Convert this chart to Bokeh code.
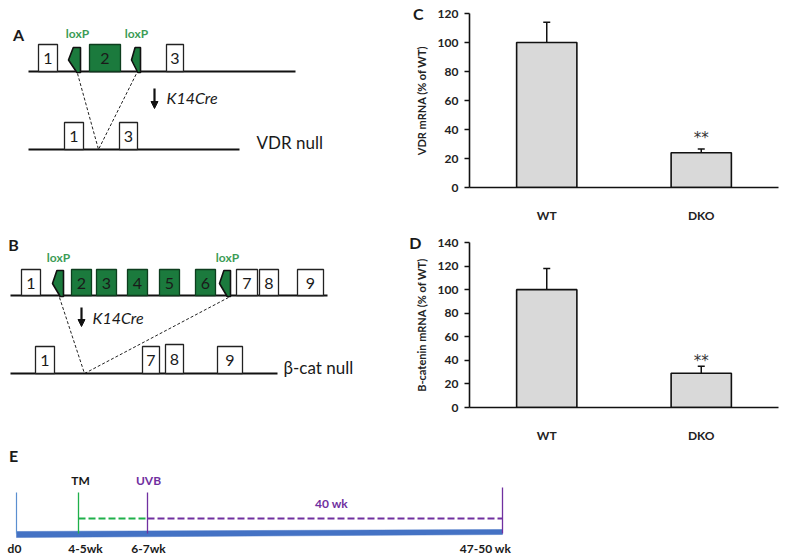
from bokeh.plotting import figure
from bokeh.models import (Range1d, FactorRange, ColumnDataSource, Whisker, TeeHead,
                          LinearAxis, Arrow, NormalHead, FixedTicker)
from bokeh.layouts import column, row
from bokeh.core.properties import value
from bokeh.embed import file_html
from bokeh.resources import INLINE

# ---------------- data ----------------
categories = ["WT", "DKO"]
vdr_mean = [100, 24]
vdr_err = [14, 2.5]
bcat_mean = [100, 29]
bcat_err = [18, 6]
significance = ["", "**"]
vdr_ticks = [0, 20, 40, 60, 80, 100, 120]
bcat_ticks = [0, 20, 40, 60, 80, 100, 120, 140]

vdr_floxed_exons = ["1", "2", "3"]
vdr_null_exons = ["1", "3"]
bcat_floxed_exons = ["1", "2", "3", "4", "5", "6", "7", "8", "9"]
bcat_null_exons = ["1", "7", "8", "9"]
timeline_labels = ["d0", "4-5wk", "6-7wk", "47-50 wk"]

# ---------------- style ----------------
FONT = "Lato"
EXON_GREEN = "#1b7a3d"
LOX_GREEN = "#3c9c55"
PURPLE = "#7030a0"
TL_GREEN = "#1fb04a"
BLUE = "#4472c4"
INK = "#1a1a1a"


def canvas(w, h, xr, yr):
    p = figure(width=w, height=h, x_range=Range1d(*xr), y_range=Range1d(*yr),
               x_axis_type=None, y_axis_type=None, toolbar_location=None,
               output_backend="svg", min_border=0, outline_line_color=None)
    return p


def txt(p, x, y, t, size="16px", color=INK, style="normal", align="center", baseline="middle"):
    p.text(x=[x], y=[y], text=[t], text_font=value(FONT), text_font_size=size,
           text_color=color, text_font_style=style, text_align=align, text_baseline=baseline)


def exons(p, labels, lefts, rights, tops, bottoms, green_flags):
    for lab, l, r, t, b, g in zip(labels, lefts, rights, tops, bottoms, green_flags):
        p.quad(left=[l], right=[r], top=[t], bottom=[b],
               fill_color=EXON_GREEN if g else "white",
               line_color="#0d3d1e" if g else "#222222", line_width=1.3)
        txt(p, (l + r) / 2.0, (t + b) / 2.0 + 0.5, lab, size="16px")


def loxp(p, xl, xr, yt, yb):
    xs = [xl + 0.4 * (xr - xl), xr, xr, xr - 0.3 * (xr - xl), xl]
    ys = [yt, yt, yb, yb, (yt + yb) / 2.0]
    p.patch(xs, ys, fill_color=EXON_GREEN, line_color="#111111", line_width=1.6)


def down_arrow(p, x, y0, y1):
    p.add_layout(Arrow(end=NormalHead(size=7, fill_color="#111111", line_color="#111111"),
                       x_start=x, y_start=y0, x_end=x, y_end=y1,
                       line_width=2.2, line_color="#111111"))


# ---------------- panel A + B (schematic) ----------------
left = canvas(400, 445, (0, 400), (445, 0))

# Panel A
txt(left, 18, 34, "A", size="16px", style="bold")
left.line([28, 295], [71, 71], line_color="#111111", line_width=2.2)
exons(left, vdr_floxed_exons, [38, 89, 166], [57, 120, 183], [44] * 3, [71] * 3,
      [False, True, False])
loxp(left, 68, 80, 47, 72)
loxp(left, 131, 140, 47, 72)
txt(left, 77, 33, "loxP", size="12px", color=LOX_GREEN, style="bold")
txt(left, 136, 33, "loxP", size="12px", color=LOX_GREEN, style="bold")
left.line([77, 98, 136], [73, 149, 73], line_color="#222222", line_width=1, line_dash="3 2")
down_arrow(left, 154, 88, 108)
txt(left, 166, 97, "K14Cre", size="16px", style="italic", align="left")
left.line([28, 239], [149, 149], line_color="#111111", line_width=2.2)
exons(left, vdr_null_exons, [64, 119], [83, 137], [122] * 2, [149] * 2, [False, False])
txt(left, 256, 142, "VDR null", size="17px", align="left")

# Panel B
txt(left, 13, 244, "B", size="16px", style="bold")
left.line([10, 327], [295, 295], line_color="#111111", line_width=2.2)
exons(left, bcat_floxed_exons,
      [21, 71, 96, 127, 159, 195, 236, 259, 297],
      [40, 91, 116, 147, 179, 215, 257, 278, 323],
      [269] * 9, [295] * 9,
      [False, True, True, True, True, True, False, False, False])
loxp(left, 52, 63, 270, 296)
loxp(left, 219, 230, 270, 296)
txt(left, 58, 257, "loxP", size="12px", color=LOX_GREEN, style="bold")
txt(left, 227, 257, "loxP", size="12px", color=LOX_GREEN, style="bold")
left.line([59, 84, 228], [297, 373, 297], line_color="#222222", line_width=1, line_dash="3 2")
down_arrow(left, 81, 307, 326)
txt(left, 92, 317, "K14Cre", size="16px", style="italic", align="left")
left.line([10, 277], [373, 373], line_color="#111111", line_width=2.2)
exons(left, bcat_null_exons, [35, 142, 165, 217], [54, 159, 183, 242],
      [346, 346, 344, 346], [373] * 4, [False] * 4)
txt(left, 283, 367, "\u03b2-cat null", size="17px", align="left")


# ---------------- bar charts C and D ----------------
def bar_chart(h, ticks, means, errs, ylabel, letter, letter_standoff, borders, star_off):
    top_b, bottom_b, right_b = borders
    p = figure(width=400, height=h, x_range=FactorRange(*categories),
               y_range=Range1d(0, ticks[-1]), toolbar_location=None,
               output_backend="svg", min_border_left=69, min_border_right=right_b,
               min_border_top=top_b, min_border_bottom=bottom_b,
               outline_line_color=None)
    upper = [m + e for m, e in zip(means, errs)]
    src = ColumnDataSource(dict(x=categories, top=means, upper=upper, sig=significance))
    p.vbar(x="x", top="top", width=0.39, source=src, fill_color="#d9d9d9",
           line_color="#111111", line_width=1.6)
    p.add_layout(Whisker(base="x", lower="top", upper="upper", source=src,
                         dimension="height", lower_head=None,
                         upper_head=TeeHead(size=7, line_width=1.5, line_color="#111111"),
                         line_width=1.5, line_color="#111111"))
    p.text(x="x", y="upper", text="sig", source=src, text_font=value("DejaVu Sans"),
           text_font_size="15px", text_align="center", text_baseline="middle",
           y_offset=-star_off, text_color="#333333")
    p.xgrid.grid_line_color = None
    p.ygrid.grid_line_color = None
    for ax in (p.xaxis, p.yaxis):
        ax.axis_line_color = "#111111"
        ax.axis_line_width = 1.6
        ax.major_label_text_font = FONT
        ax.major_label_text_font_style = "bold"
        ax.major_label_text_font_size = "12px"
        ax.major_label_text_color = "#222222"
        ax.minor_tick_line_color = None
    p.xaxis.major_tick_line_color = None
    p.xaxis.major_label_standoff = 14
    p.yaxis.ticker = FixedTicker(ticks=ticks)
    p.yaxis.major_tick_in = 0
    p.yaxis.major_tick_out = 5
    p.yaxis.major_tick_line_width = 1.4
    p.yaxis.major_tick_line_color = "#111111"
    p.yaxis.major_label_standoff = 6
    p.yaxis.axis_label = ylabel
    p.yaxis.axis_label_text_font = FONT
    p.yaxis.axis_label_text_font_style = "bold"
    p.yaxis.axis_label_text_font_size = "11px"
    p.yaxis.axis_label_text_color = "#222222"
    p.yaxis.axis_label_standoff = 7
    # panel letter, drawn as the single tick label of an outer, line-less axis
    letter_axis = LinearAxis(ticker=FixedTicker(ticks=[ticks[-1]]),
                             major_label_overrides={ticks[-1]: letter},
                             axis_line_color=None, major_tick_line_color=None,
                             minor_tick_line_color=None,
                             major_tick_in=0, major_tick_out=0,
                             major_label_text_font=FONT,
                             major_label_text_font_style="bold",
                             major_label_text_font_size="16px",
                             major_label_text_color=INK,
                             major_label_standoff=letter_standoff)
    p.add_layout(letter_axis, "left")
    return p


pc = bar_chart(225, vdr_ticks, vdr_mean, vdr_err, "VDR mRNA (% of WT)", "C",
               -12, (13, 33, 7), 11)
pd_ = bar_chart(220, bcat_ticks, bcat_mean, bcat_err, "B-catenin mRNA (% of WT)", "D",
                -10, (17, 28, 22), 5)

# ---------------- panel E (timeline) ----------------
pe = canvas(800, 113, (0, 800), (558, 445))
txt(pe, 13, 455, "E", size="16px", style="bold")
pe.patch([16, 502, 502, 16], [531, 529, 534, 537], fill_color=BLUE, line_color=BLUE, line_width=0.5)
pe.line([16, 16], [492, 533], line_color="#5b8fd0", line_width=1.2)
pe.line([78, 78], [492, 533], line_color=TL_GREEN, line_width=1.3)
pe.line([147, 147], [492, 533], line_color=PURPLE, line_width=1.3)
pe.line([502, 502], [487, 533], line_color=PURPLE, line_width=1.3)
pe.line([78, 147], [518, 518], line_color=TL_GREEN, line_width=2, line_dash="7 3")
pe.line([147, 502], [518, 518], line_color=PURPLE, line_width=2, line_dash="7 3")
txt(pe, 80, 480, "TM", size="12px", style="bold")
txt(pe, 148, 480, "UVB", size="12px", style="bold", color=PURPLE)
txt(pe, 331, 503, "40 wk", size="12px", style="bold", color=PURPLE)
for lab, xx in zip(timeline_labels, [14, 85, 148, 485]):
    txt(pe, xx, 548, lab, size="12px", style="bold")

layout = column(row(left, column(pc, pd_)), pe)
open("out.html", "w").write(file_html(layout, INLINE))
